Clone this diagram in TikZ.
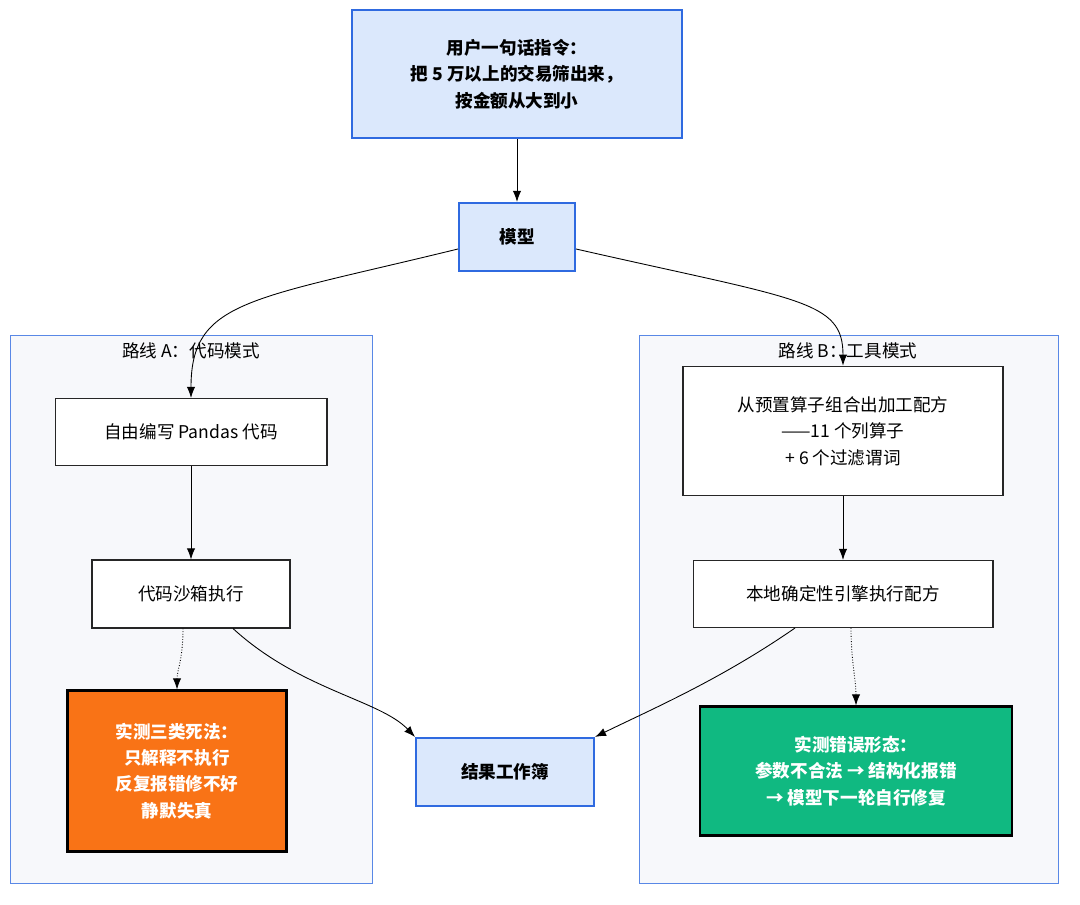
\documentclass[tikz,border=0pt]{standalone}
\usepackage{fontspec}
\setmainfont{Noto Sans CJK SC}
\usetikzlibrary{arrows.meta}
\definecolor{boxblue}{HTML}{DBE8FC}
\definecolor{lineblue}{HTML}{2F6AE0}
\definecolor{clusterbg}{HTML}{F7F8FB}
\definecolor{deadorange}{HTML}{F97316}
\definecolor{fixgreen}{HTML}{10B981}
\tikzset{
  stage/.style={draw=black!85,line width=0.6pt,fill=white,align=center,font=\fontsize{10}{15}\selectfont},
  key/.style={draw=lineblue,line width=1.2pt,fill=boxblue,align=center,font=\fontsize{10}{15}\selectfont\bfseries},
  flow/.style={-{Latex[length=2.2mm]},line width=0.5pt},
  hint/.style={flow,densely dotted},
  cluster/.style={draw=lineblue!80,line width=0.5pt,fill=clusterbg}
}
\begin{document}
\begin{tikzpicture}[x=0.02cm,y=-0.02cm]
  \useasboundingbox (0,0) rectangle (1080,905);
  % clusters
  \draw[cluster] (10,335) rectangle (372,883);
  \draw[cluster] (639,335) rectangle (1058,883);
  \node[font=\fontsize{10}{12}\selectfont] (labA) at (191,351) {路线 A：代码模式};
  \node[font=\fontsize{10}{12}\selectfont] (labB) at (848,351) {路线 B：工具模式};
  % nodes
  \node[key,minimum width=6.6cm,minimum height=2.56cm] (ask) at (517,74) {用户一句话指令：\\把 5 万以上的交易筛出来，\\按金额从大到小};
  \node[key,minimum width=2.32cm,minimum height=1.36cm] (model) at (517,237) {模型};
  \node[stage,minimum width=5.44cm,minimum height=1.34cm] (write) at (191,432) {自由编写 Pandas 代码};
  \node[stage,minimum width=3.96cm,minimum height=1.36cm] (sandbox) at (191,594) {代码沙箱执行};
  \node[stage,draw=black,line width=1.2pt,fill=deadorange,text=white,font=\fontsize{10}{15}\selectfont\bfseries,minimum width=4.38cm,minimum height=3.22cm] (dead) at (177,771) {实测三类死法：\\只解释不执行\\反复报错修不好\\静默失真};
  \node[stage,line width=1pt,minimum width=6.4cm,minimum height=2.58cm] (recipe) at (843,431) {从预置算子组合出加工配方\\——11 个列算子\\+ 6 个过滤谓词};
  \node[stage,minimum width=6cm,minimum height=1.34cm] (engine) at (843,594) {本地确定性引擎执行配方};
  \node[stage,draw=black,line width=1.2pt,fill=fixgreen,text=white,font=\fontsize{10}{15}\selectfont\bfseries,minimum width=6.24cm,minimum height=2.58cm] (fix) at (856,771) {实测错误形态：\\参数不合法 → 结构化报错\\→ 模型下一轮自行修复};
  \node[key,minimum width=3.56cm,minimum height=1.36cm] (book) at (505,772) {结果工作簿};
  % connectors
  \draw[flow] (ask) -- (model);
  \draw[flow] (model.west) ++(0,12) .. controls (250,300) and (191,300) .. (write.north);
  \draw[flow] (model.east) ++(0,12) .. controls (800,300) and (843,300) .. (recipe.north);
  \draw[flow] (write) -- (sandbox);
  \draw[flow] (recipe) -- (engine);
  \draw[hint] (sandbox.south) ++(-8,0) .. controls (183,660) and (177,670) .. (dead.north);
  \draw[hint] (engine.south) ++(8,0) .. controls (851,660) and (856,680) .. (fix.north);
  \draw[flow] (sandbox.south) ++(42,0) .. controls (300,690) and (380,700) .. (book.north west);
  \draw[flow] (engine.south) ++(-48,0) .. controls (720,680) and (650,710) .. (book.north east);
\end{tikzpicture}
\end{document}
